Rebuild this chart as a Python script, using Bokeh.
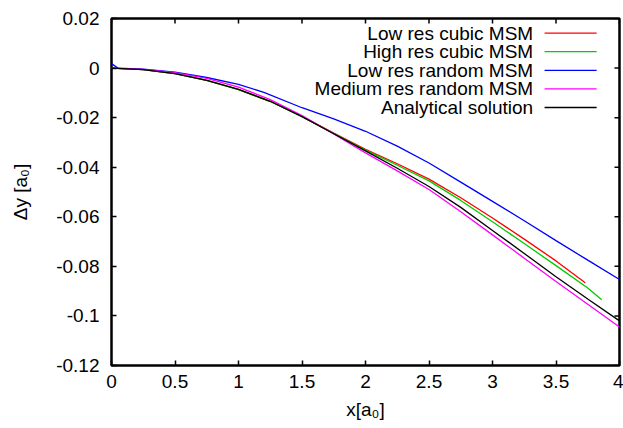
import math
from bokeh.plotting import figure
from bokeh.models import FixedTicker, Label, Range1d, ColumnDataSource
from bokeh.embed import file_html
from bokeh.resources import INLINE

# ---- data ----
x_ticks = [0, 0.5, 1, 1.5, 2, 2.5, 3, 3.5, 4]
x_tick_labels = ["0", "0.5", "1", "1.5", "2", "2.5", "3", "3.5", "4"]
y_ticks = [0.02, 0, -0.02, -0.04, -0.06, -0.08, -0.1, -0.12]
y_tick_labels = ["0.02", "0", "-0.02", "-0.04", "-0.06", "-0.08", "-0.1", "-0.12"]

series_names = ["Low res cubic MSM", "High res cubic MSM", "Low res random MSM",
                "Medium res random MSM", "Analytical solution"]
series_colors = ["#ff0000", "#00cc00", "#0000ff", "#ff00ff", "#000000"]

low_cubic_x = [0, 0.25, 0.5, 0.75, 1, 1.25, 1.5, 1.75, 2, 2.25, 2.5, 2.75, 3, 3.25, 3.5, 3.73]
low_cubic_y = [0, -0.0006, -0.0022, -0.0050, -0.0086, -0.0134, -0.0195, -0.0262, -0.0328,
               -0.0386, -0.0448, -0.0523, -0.0605, -0.0690, -0.0778, -0.0866]

high_cubic_x = [0, 0.25, 0.5, 0.75, 1, 1.25, 1.5, 1.75, 2, 2.25, 2.5, 2.75, 3, 3.25, 3.5, 3.75, 3.86]
high_cubic_y = [0, -0.0006, -0.0022, -0.0050, -0.0087, -0.0135, -0.0196, -0.0264, -0.0331,
                -0.0392, -0.0455, -0.0534, -0.0620, -0.0708, -0.0797, -0.0887, -0.0935]

low_random_x = [0, 0.05, 0.25, 0.5, 0.75, 1, 1.2, 1.5, 1.75, 2, 2.25, 2.5, 2.75, 3, 3.25, 3.5, 3.75, 4]
low_random_y = [0.0018, 0.0, -0.0004, -0.0016, -0.0038, -0.0066, -0.0098, -0.0160, -0.0205,
                -0.0255, -0.0315, -0.0383, -0.0460, -0.0538, -0.0616, -0.0696, -0.0775, -0.0853]

med_random_x = [0, 0.25, 0.5, 0.75, 1, 1.25, 1.5, 1.75, 2, 2.25, 2.5, 2.75, 3, 3.25, 3.5, 3.75, 4]
med_random_y = [0, -0.0005, -0.0018, -0.0042, -0.0077, -0.0127, -0.0192, -0.0266, -0.0342,
                -0.0415, -0.0490, -0.0580, -0.0673, -0.0767, -0.0861, -0.0953, -0.1045]

analytic_x = [0, 0.25, 0.5, 0.75, 1, 1.25, 1.5, 1.75, 2, 2.25, 2.5, 2.75, 3, 3.25, 3.5, 3.75, 4]
analytic_y = [0, -0.0006, -0.0022, -0.0050, -0.0086, -0.0134, -0.0196, -0.0265, -0.0334,
              -0.0404, -0.0478, -0.0562, -0.0655, -0.0748, -0.0842, -0.0932, -0.1020]

series_x = [low_cubic_x, high_cubic_x, low_random_x, med_random_x, analytic_x]
series_y = [low_cubic_y, high_cubic_y, low_random_y, med_random_y, analytic_y]

FONT = "Liberation Sans"
FS = "19px"
X_MIN, X_MAX = 0, 4
Y_MIN, Y_MAX = -0.12, 0.02

p = figure(width=623, height=422, output_backend="svg", toolbar_location=None,
           x_range=Range1d(X_MIN, X_MAX), y_range=Range1d(Y_MIN, Y_MAX),
           min_border_left=111, min_border_top=18, min_border_right=4, min_border_bottom=55)
p.background_fill_color = "white"
p.border_fill_color = "white"
p.grid.visible = False
p.outline_line_color = "black"
p.outline_line_width = 2.5

def style_axis(ax, ticks, labels):
    ax.ticker = FixedTicker(ticks=ticks)
    ax.major_label_overrides = {t: l for t, l in zip(ticks, labels)}
    ax.minor_tick_line_color = None
    ax.major_tick_in = 5
    ax.major_tick_out = 0
    ax.major_tick_line_width = 1.5
    ax.major_tick_line_color = "black"
    ax.axis_line_color = None
    ax.major_label_text_font = FONT
    ax.major_label_text_color = "black"
    ax.major_label_text_font_size = FS
    ax.axis_label_text_font = FONT
    ax.axis_label_text_font_size = FS
    ax.axis_label_text_font_style = "normal"
    ax.axis_label_text_color = "black"

style_axis(p.xaxis[0], x_ticks, x_tick_labels)
style_axis(p.yaxis[0], y_ticks, y_tick_labels)
p.xaxis[0].major_label_standoff = 9
p.yaxis[0].major_label_standoff = 12
p.xaxis[0].axis_label = "x[a₀]"
p.yaxis[0].axis_label = "Δy [a₀]"
p.xaxis[0].axis_label_standoff = 8
p.yaxis[0].axis_label_standoff = 22

# mirrored inward ticks on the top and right edges (gnuplot style)
p.ray(x=x_ticks, y=[Y_MAX] * len(x_ticks), length=5, length_units="screen",
      angle=-math.pi / 2, line_color="black", line_width=1.5)
p.ray(x=[X_MAX] * len(y_ticks), y=y_ticks, length=5, length_units="screen",
      angle=math.pi, line_color="black", line_width=1.5)

for xs, ys, c in zip(series_x, series_y, series_colors):
    p.line(xs, ys, line_color=c, line_width=1.3)

# ---- legend (gnuplot style: right-aligned text, sample line on the right) ----
leg_text_x = 3.32
leg_line_x0 = 3.41
leg_line_x1 = 3.82
leg_top = 0.0141
leg_step = 0.0075
rows_y = [leg_top - i * leg_step for i in range(len(series_names))]
for name, c, yy in zip(series_names, series_colors, rows_y):
    p.add_layout(Label(x=leg_text_x, y=yy, text=name, text_align="right",
                       text_baseline="middle", text_font=FONT, text_font_size=FS,
                       text_color="black"))
seg_src = ColumnDataSource(dict(x0=[leg_line_x0] * len(rows_y), x1=[leg_line_x1] * len(rows_y),
                                y0=rows_y, y1=rows_y, c=series_colors))
p.segment(x0="x0", y0="y0", x1="x1", y1="y1", line_color="c", line_width=1.3, source=seg_src)

open("out.html", "w").write(file_html(p, INLINE))
